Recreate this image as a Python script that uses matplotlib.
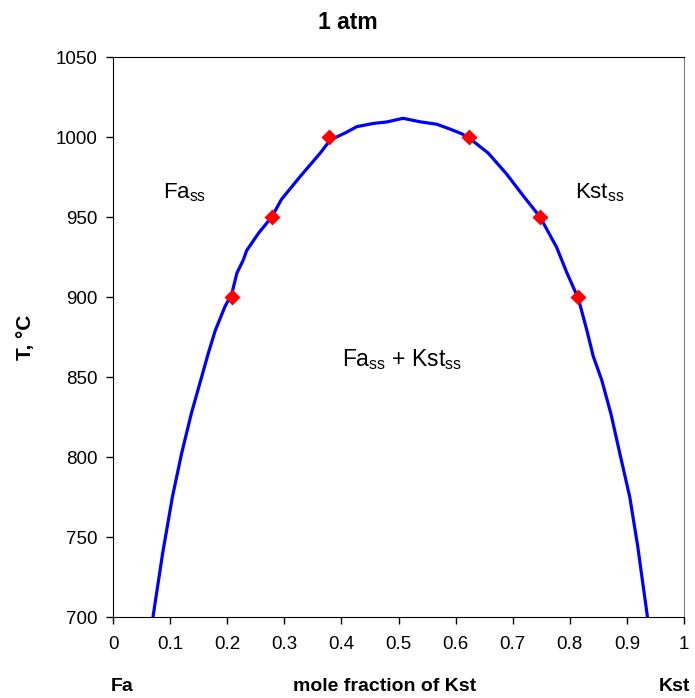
import numpy as np
import matplotlib
matplotlib.use('Agg')
import matplotlib.pyplot as plt

plt.rcParams['font.family'] = ['Liberation Sans', 'DejaVu Sans']
plt.rcParams['mathtext.fontset'] = 'custom'
plt.rcParams['mathtext.rm'] = 'Liberation Sans'

# solvus curve
x_curve = [0.070, 0.087, 0.104, 0.120, 0.137, 0.152, 0.167, 0.179, 0.196, 0.208,
           0.217, 0.228, 0.234, 0.255, 0.278, 0.295, 0.327, 0.363, 0.380, 0.409,
           0.427, 0.456, 0.479, 0.508, 0.538, 0.567, 0.590, 0.611, 0.625, 0.657,
           0.689, 0.719, 0.748, 0.777, 0.795, 0.815, 0.830, 0.841, 0.856, 0.872,
           0.889, 0.905, 0.919, 0.936]
T_curve = [700, 740, 775, 802, 827, 846, 865, 879, 894, 902,
           915, 923, 929, 940, 950, 961, 975, 990, 998, 1003,
           1006.5, 1008.5, 1009.4, 1011.7, 1009.5, 1008, 1005, 1002, 999, 990,
           977, 963, 950, 931, 915, 899, 879, 863, 848, 827,
           800, 775, 744, 700]

# experimental points
x_pts = [0.208, 0.278, 0.378, 0.623, 0.748, 0.815]
T_pts = [900, 950, 1000, 1000, 950, 900]

xticks = [0, 0.1, 0.2, 0.3, 0.4, 0.5, 0.6, 0.7, 0.8, 0.9, 1]
xticklabels = ['0', '0.1', '0.2', '0.3', '0.4', '0.5', '0.6', '0.7', '0.8', '0.9', '1']
yticks = [700, 750, 800, 850, 900, 950, 1000, 1050]

fig = plt.figure(figsize=(6.95, 6.98), dpi=100)
ax = fig.add_axes([0.1626, 0.116, 0.8216, 0.8023])

ax.plot(x_curve, T_curve, color='#0000FF', lw=2.3, zorder=2)
ax.plot(x_pts, T_pts, 'D', color='#FF0000', markersize=8, mec='none', zorder=3)

ax.set_xlim(0, 1)
ax.set_ylim(700, 1050)
ax.set_xticks(xticks)
ax.set_xticklabels(xticklabels)
ax.set_yticks(yticks)
ax.tick_params(labelsize=13.5, length=5, width=1, direction='out')
ax.tick_params(axis='x', pad=9)
ax.tick_params(axis='y', pad=6)
ax.spines['right'].set_color('#808080')

fig.text(0.036, 0.517, 'T, °C', rotation=90, ha='center', va='center',
         fontsize=15, fontweight='bold')
fig.text(0.5, 0.968, '1 atm', ha='center', va='center', fontsize=16.5, fontweight='bold')
fig.text(0.553, 0.016, 'mole fraction of Kst', ha='center', va='center',
         fontsize=14, fontweight='bold')
fig.text(0.176, 0.016, 'Fa', ha='center', va='center', fontsize=14, fontweight='bold')
fig.text(0.971, 0.016, 'Kst', ha='center', va='center', fontsize=14, fontweight='bold')

ax.text(0.088, 965, r'Fa$_{\mathregular{ss}}$', fontsize=16, va='center', ha='left')
ax.text(0.809, 965, r'Kst$_{\mathregular{ss}}$', fontsize=16, va='center', ha='left')
ax.text(0.401, 861, r'Fa$_{\mathregular{ss}}$ + Kst$_{\mathregular{ss}}$', fontsize=16.5,
        va='center', ha='left')

fig.savefig('out.png', dpi=100)
